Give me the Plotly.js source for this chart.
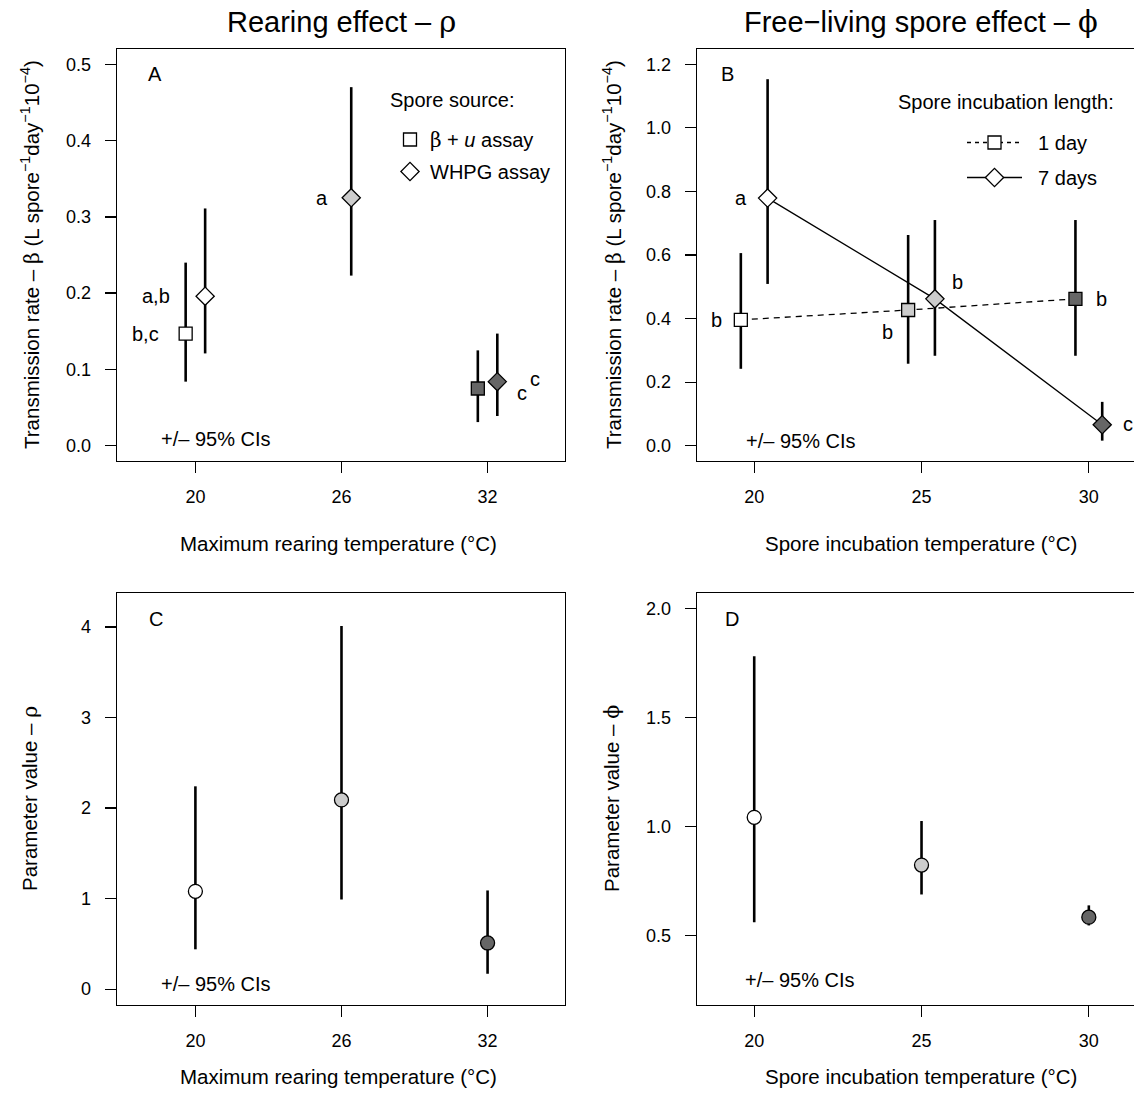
<!DOCTYPE html>
<html>
<head>
<meta charset="utf-8">
<script src="https://cdn.plot.ly/plotly-3.0.1.min.js"></script>
<style>
  html, body { margin: 0; padding: 0; background: #ffffff; overflow: hidden; }
  #chart { width: 1134px; height: 1097px; }
</style>
</head>
<body>
<div id="chart"></div>
<script>
// ---------------- DATA ----------------
// Panel A: transmission rate by maximum rearing temperature
const aSquareTemp = [20, 32];            // beta + u assay
const aSquareEst  = [0.147, 0.075];
const aSquareLo   = [0.084, 0.031];
const aSquareHi   = [0.240, 0.125];
const aDiamondTemp = [20, 26, 32];       // WHPG assay
const aDiamondEst  = [0.196, 0.325, 0.084];
const aDiamondLo   = [0.121, 0.223, 0.039];
const aDiamondHi   = [0.311, 0.470, 0.147];
const aLetters = { square: ["b,c", "c"], diamond: ["a,b", "a", "c"] };

// Panel B: transmission rate by spore incubation temperature
const bTemp = [20, 25, 30];
const oneDayEst = [0.396, 0.427, 0.462];
const oneDayLo  = [0.242, 0.258, 0.283];
const oneDayHi  = [0.606, 0.663, 0.710];
const sevenDayEst = [0.779, 0.462, 0.066];
const sevenDayLo  = [0.509, 0.283, 0.016];
const sevenDayHi  = [1.153, 0.710, 0.138];
const bLetters = { oneDay: ["b", "b", "b"], sevenDay: ["a", "b", "c"] };

// Panel C: rho
const cTemp = [20, 26, 32];
const rhoEst = [1.08, 2.09, 0.51];
const rhoLo  = [0.44, 0.99, 0.17];
const rhoHi  = [2.24, 4.01, 1.09];

// Panel D: phi
const dTemp = [20, 25, 30];
const phiEst = [1.041, 0.822, 0.583];
const phiLo  = [0.560, 0.687, 0.545];
const phiHi  = [1.780, 1.024, 0.637];

// Tick labels
const aTicks = [20, 26, 32];
const bTicks = [20, 25, 30];
const aYTicks = [0, 0.1, 0.2, 0.3, 0.4, 0.5];
const bYTicks = [0, 0.2, 0.4, 0.6, 0.8, 1.0, 1.2];
const cYTicks = [0, 1, 2, 3, 4];
const dYTicks = [0.5, 1.0, 1.5, 2.0];

// ---------------- STYLE ----------------
const W = 1134, H = 1097;
const PX = x => x / W;
const PY = y => 1 - y / H;
const FONT = "Liberation Sans, Arial, Helvetica, sans-serif";
const GREEK = "font-family:'DejaVu Serif','Liberation Serif',serif";
const fillFor = t => (t <= 20 ? "#ffffff" : (t <= 26 ? "#cccccc" : "#666666"));
const DODGE = 0.4;
const TXT = 20;

function errBar(est, lo, hi) {
  return {
    type: "data", symmetric: false,
    array: hi.map((h, i) => h - est[i]),
    arrayminus: lo.map((l, i) => est[i] - l),
    width: 0, thickness: 2.6, color: "#000000"
  };
}
function pts(xs, temps, ys, lo, hi, symbol, size, xa, ya) {
  return {
    type: "scatter", mode: "markers", x: xs, y: ys, xaxis: xa, yaxis: ya,
    showlegend: false, hoverinfo: "skip",
    marker: { symbol: symbol, size: size, color: temps.map(fillFor),
              line: { color: "#000000", width: 1.3 } },
    error_y: errBar(ys, lo, hi)
  };
}

const traces = [];
// Panel A
const aSqX = aSquareTemp.map(t => t - DODGE);
const aDiX = aDiamondTemp.map(t => t + DODGE);
traces.push(pts(aSqX, aSquareTemp, aSquareEst, aSquareLo, aSquareHi, "square", 13, "x", "y"));
traces.push(pts(aDiX, aDiamondTemp, aDiamondEst, aDiamondLo, aDiamondHi, "diamond", 14, "x", "y"));

// Panel B: connecting lines first
const bSqX = bTemp.map(t => t - DODGE);
const bDiX = bTemp.map(t => t + DODGE);
traces.push({ type: "scatter", mode: "lines", x: bSqX, y: oneDayEst, xaxis: "x2", yaxis: "y2",
  showlegend: false, hoverinfo: "skip", line: { color: "#000", width: 1.3, dash: "6px,5px" } });
traces.push({ type: "scatter", mode: "lines", x: bDiX, y: sevenDayEst, xaxis: "x2", yaxis: "y2",
  showlegend: false, hoverinfo: "skip", line: { color: "#000", width: 1.3 } });
traces.push(pts(bSqX, bTemp, oneDayEst, oneDayLo, oneDayHi, "square", 13, "x2", "y2"));
traces.push(pts(bDiX, bTemp, sevenDayEst, sevenDayLo, sevenDayHi, "diamond", 14, "x2", "y2"));

// Panel C
traces.push(pts(cTemp, cTemp, rhoEst, rhoLo, rhoHi, "circle", 14, "x3", "y3"));
// Panel D
traces.push(pts(dTemp, dTemp, phiEst, phiLo, phiHi, "circle", 14, "x4", "y4"));

// Legend entries
traces.push({ type: "scatter", mode: "markers", x: [null], y: [null], xaxis: "x", yaxis: "y",
  name: "<span style=\"" + GREEK + "\">β</span> + <i>u</i> assay", legend: "legend", legendgroup: "a1",
  marker: { symbol: "square", size: 13, color: "#fff", line: { color: "#000", width: 1.3 } } });
traces.push({ type: "scatter", mode: "markers", x: [null], y: [null], xaxis: "x", yaxis: "y",
  name: "WHPG assay", legend: "legend", legendgroup: "a2",
  marker: { symbol: "diamond", size: 14, color: "#fff", line: { color: "#000", width: 1.3 } } });
traces.push({ type: "scatter", mode: "lines+markers", x: [null], y: [null], xaxis: "x2", yaxis: "y2",
  name: "&nbsp;&nbsp;1 day", legend: "legend2", legendgroup: "b1",
  line: { color: "#000", width: 1.3, dash: "4px,4px" },
  marker: { symbol: "square", size: 13, color: "#fff", line: { color: "#000", width: 1.3 } } });
traces.push({ type: "scatter", mode: "lines+markers", x: [null], y: [null], xaxis: "x2", yaxis: "y2",
  name: "&nbsp;&nbsp;7 days", legend: "legend2", legendgroup: "b2",
  line: { color: "#000", width: 1.3 },
  marker: { symbol: "diamond", size: 14, color: "#fff", line: { color: "#000", width: 1.3 } } });

// ---------------- AXES ----------------
function xax(domain, range, ticks, anchor, mirror) {
  return { domain: domain, range: range, tickvals: ticks, ticktext: ticks.map(String), anchor: anchor,
    ticks: "outside", ticklen: 11, tickwidth: 1.3, tickcolor: "#000",
    showline: true, linecolor: "#000", linewidth: 1.3, mirror: mirror,
    showgrid: false, zeroline: false, fixedrange: true,
    ticklabelstandoff: 8, tickfont: { family: FONT, size: 18, color: "#000" } };
}
function yax(domain, range, ticks, fmt, anchor, mirror) {
  return { domain: domain, range: range, tickvals: ticks, tickformat: fmt, anchor: anchor,
    ticks: "outside", ticklen: 11, tickwidth: 1.3, tickcolor: "#000",
    showline: true, linecolor: "#000", linewidth: 1.3, mirror: mirror,
    showgrid: false, zeroline: false, fixedrange: true,
    ticklabelstandoff: 10, tickfont: { family: FONT, size: 18, color: "#000" } };
}
const domLeft = [PX(117), PX(565)];
const domRight = [PX(697), 1];
const domTop = [PY(461), PY(49)];
const domBot = [PY(1005), PY(593)];

// ---------------- ANNOTATIONS ----------------
const ann = [];
function txt(text, x, y, opts) {
  ann.push(Object.assign({ text: text, x: PX(x), y: PY(y), xref: "paper", yref: "paper",
    showarrow: false, xanchor: "center", yanchor: "middle",
    font: { family: FONT, size: TXT, color: "#000" } }, opts || {}));
}
const titleFont = { family: FONT, size: 29, color: "#000" };
const axFont = { family: FONT, size: 20.5, color: "#000" };
// Titles
txt("Rearing effect – <span style=\"" + GREEK + "\">ρ</span>", 341, 22, { font: titleFont });
txt("Free−living spore effect – <span style=\"" + GREEK + "\">ϕ</span>", 921, 22, { font: titleFont });
// Axis titles
const yTitleBeta = "Transmission rate – <span style=\"" + GREEK + "\">β</span> (L spore<sup>−1</sup>day<sup>−1</sup>10<sup>−4</sup>)";
txt(yTitleBeta, 30, 255, { textangle: -90, font: axFont });
txt(yTitleBeta, 612, 255, { textangle: -90, font: axFont });
txt("Parameter value – <span style=\"" + GREEK + "\">ρ</span>", 30, 799, { textangle: -90, font: axFont });
txt("Parameter value – <span style=\"" + GREEK + "\">ϕ</span>", 612, 799, { textangle: -90, font: axFont });
txt("Maximum rearing temperature (°C)", 338, 543, { font: axFont });
txt("Spore incubation temperature (°C)", 921, 543, { font: axFont });
txt("Maximum rearing temperature (°C)", 338, 1076, { font: axFont });
txt("Spore incubation temperature (°C)", 921, 1076, { font: axFont });
// Panel letters
txt("A", 155, 74);
txt("B", 727, 74);
txt("C", 156, 619);
txt("D", 732, 619);
// CI notes
txt("+/– 95% CIs", 159, 439, { xanchor: "left" });
txt("+/– 95% CIs", 744, 441, { xanchor: "left" });
txt("+/– 95% CIs", 159, 984, { xanchor: "left" });
txt("+/– 95% CIs", 743, 980, { xanchor: "left" });
// Legend titles
txt("Spore source:", 388, 100, { xanchor: "left" });
txt("Spore incubation length:", 896, 102, { xanchor: "left" });

// Significance letters (data coordinates, shifted in pixels)
function lab(text, xa, ya, x, y, dx, dy) {
  ann.push({ text: text, x: x, y: y, xref: xa, yref: ya, showarrow: false,
    xanchor: "center", yanchor: "middle", xshift: dx, yshift: dy,
    font: { family: FONT, size: TXT, color: "#000" } });
}
lab(aLetters.square[0], "x", "y", aSqX[0], aSquareEst[0], -40, 0);
lab(aLetters.diamond[0], "x", "y", aDiX[0], aDiamondEst[0], -49, 0);
lab(aLetters.diamond[1], "x", "y", aDiX[1], aDiamondEst[1], -29, 0);
lab(aLetters.square[1], "x", "y", aSqX[1], aSquareEst[1], 44, -4);
lab(aLetters.diamond[2], "x", "y", aDiX[2], aDiamondEst[2], 38, 3);
lab(bLetters.oneDay[0], "x2", "y2", bSqX[0], oneDayEst[0], -24, 0);
lab(bLetters.oneDay[1], "x2", "y2", bSqX[1], oneDayEst[1], -21, -22);
lab(bLetters.oneDay[2], "x2", "y2", bSqX[2], oneDayEst[2], 26, 0);
lab(bLetters.sevenDay[0], "x2", "y2", bDiX[0], sevenDayEst[0], -27, 0);
lab(bLetters.sevenDay[1], "x2", "y2", bDiX[1], sevenDayEst[1], 23, 17);
lab(bLetters.sevenDay[2], "x2", "y2", bDiX[2], sevenDayEst[2], 26, 1);

const layout = {
  width: W, height: H,
  margin: { l: 0, r: 0, t: 0, b: 0, pad: 0 },
  paper_bgcolor: "#ffffff", plot_bgcolor: "#ffffff",
  font: { family: FONT, color: "#000" },
  xaxis:  xax(domLeft,  [16.78, 35.18], aTicks, "y",  true),
  yaxis:  yax(domTop,   [-0.02, 0.52], aYTicks, ".1f", "x", true),
  xaxis2: xax(domRight, [18.29, 31.35], bTicks, "y2", true),
  yaxis2: yax(domTop,   [-0.048, 1.248], bYTicks, ".1f", "x2", false),
  xaxis3: xax(domLeft,  [16.78, 35.18], aTicks, "y3", true),
  yaxis3: yax(domBot,   [-0.175, 4.375], cYTicks, "d", "x3", true),
  xaxis4: xax(domRight, [18.29, 31.35], bTicks, "y4", true),
  yaxis4: yax(domBot,   [0.18, 2.07], dYTicks, ".1f", "x4", false),
  legend: { x: PX(390), y: PY(120), xanchor: "left", yanchor: "top",
    bgcolor: "rgba(0,0,0,0)", borderwidth: 0, traceorder: "grouped", tracegroupgap: 3,
    font: { family: FONT, size: TXT, color: "#000" } },
  legend2: { x: PX(962), y: PY(123), xanchor: "left", yanchor: "top",
    bgcolor: "rgba(0,0,0,0)", borderwidth: 0, traceorder: "grouped", tracegroupgap: 6,
    itemwidth: 55,
    font: { family: FONT, size: TXT, color: "#000" } },
  annotations: ann,
  showlegend: true
};

Plotly.newPlot("chart", traces, layout, { staticPlot: true, displayModeBar: false });
</script>
</body>
</html>
